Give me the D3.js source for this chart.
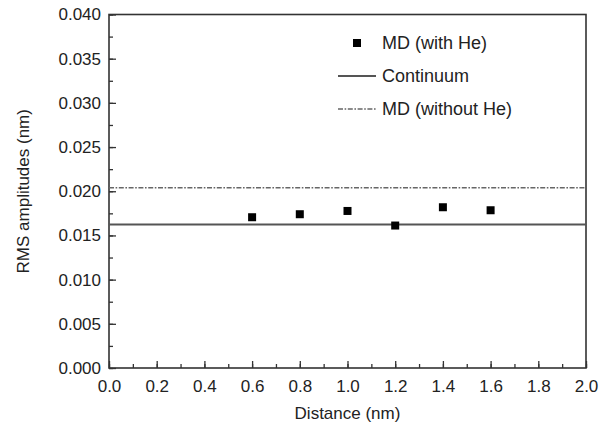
<!DOCTYPE html>
<html>
<head>
<meta charset="utf-8">
<script src="https://cdn.jsdelivr.net/npm/d3@7"></script>
<style>
  html, body { margin: 0; padding: 0; background: #fff; }
  text { font-family: Arial, "Liberation Sans", sans-serif; fill: #222; }
</style>
</head>
<body>
<div id="chart"></div>
<script>
// MD (with He) points
const distances = [0.6, 0.8, 1.0, 1.2, 1.4, 1.6]
const rmsWithHe = [0.01706, 0.0174, 0.01777, 0.01612, 0.01819, 0.01785]

// Reference levels
const continuum = 0.01624
const mdWithoutHe = 0.0204

const xTicks = [0.0, 0.2, 0.4, 0.6, 0.8, 1.0, 1.2, 1.4, 1.6, 1.8, 2.0]
const yTicks = [0.000, 0.005, 0.010, 0.015, 0.020, 0.025, 0.030, 0.035, 0.040]
const legendLabels = ['MD (with He)', 'Continuum', 'MD (without He)']

const W = 609, H = 428
const m = { left: 109, right: 23, top: 14.5, bottom: 60 }

const svg = d3.select('#chart')
  .append('svg')
  .attr('width', W)
  .attr('height', H)

const x = d3.scaleLinear().domain([0, 2]).range([m.left, W - m.right])
const y = d3.scaleLinear().domain([0, 0.04]).range([H - m.bottom, m.top])

const axisColor = '#333'

// x axis (ticks pointing inward)
const gx = svg.append('g')
  .attr('transform', `translate(0,${H - m.bottom})`)
gx.call(d3.axisBottom(x).tickValues(d3.range(0, 2.0001, 0.1)).tickSize(-4).tickFormat(''))
gx.selectAll('.tick line').attr('stroke', axisColor).attr('stroke-width', 1.3)
gx.call(g => g.select('.domain').remove())
const gx2 = svg.append('g')
  .attr('transform', `translate(0,${H - m.bottom})`)
  .call(d3.axisBottom(x).tickValues(xTicks).tickSize(-7).tickPadding(12).tickFormat(d3.format('.1f')))
gx2.select('.domain').remove()
gx2.selectAll('.tick line').attr('stroke', axisColor).attr('stroke-width', 1.3)
gx2.selectAll('text').style('font-size', '17px').attr('fill', '#222')

// y axis
const gy = svg.append('g')
  .attr('transform', `translate(${m.left},0)`)
gy.call(d3.axisLeft(y).tickValues(d3.range(0, 0.04001, 0.0025)).tickSize(-4).tickFormat(''))
gy.select('.domain').remove()
gy.selectAll('.tick line').attr('stroke', axisColor).attr('stroke-width', 1.3)
const gy2 = svg.append('g')
  .attr('transform', `translate(${m.left},0)`)
  .call(d3.axisLeft(y).tickValues(yTicks).tickSize(-7).tickPadding(8).tickFormat(d3.format('.3f')))
gy2.select('.domain').remove()
gy2.selectAll('.tick line').attr('stroke', axisColor).attr('stroke-width', 1.3)
gy2.selectAll('text').style('font-size', '17px').attr('fill', '#222')

// frame
svg.append('rect')
  .attr('x', x(0)).attr('y', y(0.04))
  .attr('width', x(2) - x(0)).attr('height', y(0) - y(0.04))
  .attr('fill', 'none')
  .attr('stroke', axisColor)
  .attr('stroke-width', 1.6)

// reference lines
svg.append('line')
  .attr('x1', x(0)).attr('x2', x(2))
  .attr('y1', y(continuum)).attr('y2', y(continuum))
  .attr('stroke', '#555').attr('stroke-width', 2)

svg.append('line')
  .attr('x1', x(0)).attr('x2', x(2))
  .attr('y1', y(mdWithoutHe)).attr('y2', y(mdWithoutHe))
  .attr('stroke', '#666').attr('stroke-width', 1.6)
  .attr('stroke-dasharray', '5,1.6,1.6,1.6')

// points
const size = 8
svg.append('g')
  .selectAll('rect')
  .data(distances.map((d, i) => ({ d, v: rmsWithHe[i] })))
  .join('rect')
  .attr('x', p => x(p.d) - size / 2)
  .attr('y', p => y(p.v) - size / 2)
  .attr('width', size)
  .attr('height', size)
  .attr('fill', '#000')

// axis titles
svg.append('text')
  .attr('x', x(1)).attr('y', 419)
  .attr('text-anchor', 'middle')
  .style('font-size', '17px')
  .text('Distance (nm)')

svg.append('text')
  .attr('transform', `translate(29,${(y(0) + y(0.04)) / 2}) rotate(-90)`)
  .attr('text-anchor', 'middle')
  .style('font-size', '17px')
  .text('RMS amplitudes (nm)')

// legend
const lg = svg.append('g')
const rowY = [43, 76, 109]
lg.append('rect')
  .attr('x', 357 - size / 2).attr('y', rowY[0] - size / 2)
  .attr('width', size).attr('height', size).attr('fill', '#000')
lg.append('line')
  .attr('x1', 338).attr('x2', 376).attr('y1', rowY[1]).attr('y2', rowY[1])
  .attr('stroke', '#555').attr('stroke-width', 2)
lg.append('line')
  .attr('x1', 338).attr('x2', 376).attr('y1', rowY[2]).attr('y2', rowY[2])
  .attr('stroke', '#666').attr('stroke-width', 1.6)
  .attr('stroke-dasharray', '5,1.6,1.6,1.6')
lg.selectAll('text.lab')
  .data(legendLabels)
  .join('text')
  .attr('class', 'lab')
  .attr('x', 382)
  .attr('y', (d, i) => rowY[i])
  .attr('dy', '0.35em')
  .style('font-size', '18px')
  .text(d => d)
</script>
</body>
</html>
